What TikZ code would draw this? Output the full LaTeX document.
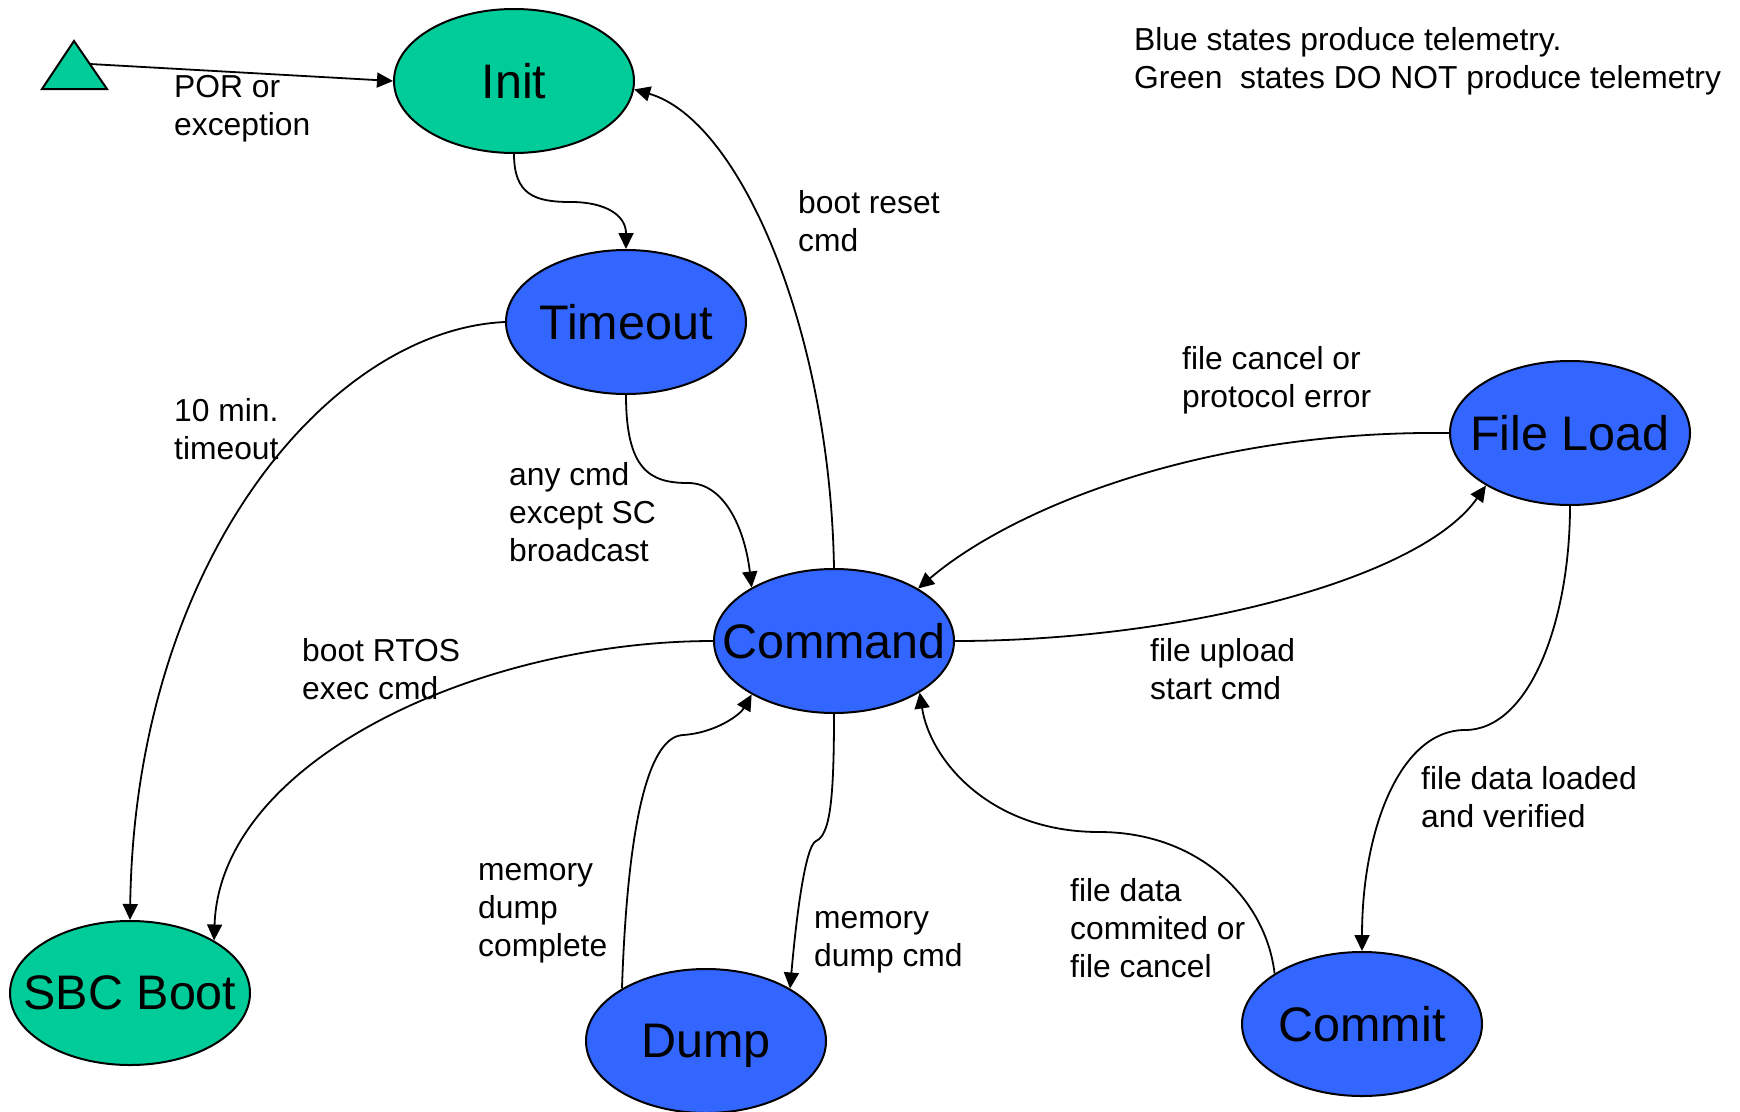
\documentclass[tikz,border=0pt]{standalone}
\usepackage{fontspec}
\setmainfont{Liberation Sans}
\usetikzlibrary{shapes.geometric,arrows.meta}
\definecolor{stgreen}{RGB}{0,204,153}
\definecolor{stblue}{RGB}{51,102,255}
\newcommand\sttext[1]{\makebox[0pt]{\raisebox{0pt}[\height][0pt]{#1}}}
\begin{document}
\begin{tikzpicture}[x=1pt,y=-1pt,
  state/.style={ellipse, draw=black, line width=2pt, minimum width=240pt, minimum height=144pt, inner sep=0pt, font=\fontsize{48.5}{58}\selectfont},
  gstate/.style={state, fill=stgreen},
  bstate/.style={state, fill=stblue},
  trans/.style={line width=1.8pt, -{Triangle[length=16pt,width=15pt]}},
  lbl/.style={anchor=west, align=left, inner sep=0pt, font=\fontsize{31.8}{38}\selectfont}]
\useasboundingbox (0,0) rectangle (1740,1111);
\fill[white] (0,0) rectangle (1740,1111);

% states
\node[gstate] (init) at (514,81) {\sttext{Init}};
\node[bstate] (tmo) at (626,322) {\sttext{Timeout}};
\node[bstate] (cmd) at (834,641) {\sttext{Command}};
\node[bstate] (fl) at (1570,433) {\sttext{File Load}};
\node[gstate] (sbc) at (130,993) {\sttext{SBC Boot}};
\node[bstate] (dump) at (706,1041) {\sttext{Dump}};
\node[bstate] (commit) at (1362,1024) {\sttext{Commit}};

% start triangle
\filldraw[fill=stgreen, draw=black, line width=2pt, line join=miter] (42,89) -- (107,89) -- (74,41) -- cycle;
\coordinate (porsrc) at (90,64);

% waypoints
\coordinate (w1) at (571,202);
\coordinate (w2) at (688,483);
\coordinate (w3) at (1465,730);
\coordinate (w4) at (816,841);
\coordinate (w5) at (683,735);
\coordinate (w6) at (1099,832);

% transitions
\draw[trans] (porsrc) -- (init.west);
\draw[trans] (init.south) .. controls (514,195) and (535,202) .. (w1) .. controls (605,202) and (626,215) .. (tmo.north);
\draw[trans] (cmd.north) .. controls (830,330) and (740,120) .. (init.-4);
\draw[trans] (tmo.south) .. controls (626,470) and (650,483) .. (w2) .. controls (725,483) and (745,530) .. (cmd.147);
\draw[trans] (tmo.west) .. controls (330,330) and (135,560) .. (sbc.north);
\draw[trans] (cmd.west) .. controls (480,641) and (220,760) .. (sbc.32);
\draw[trans] (cmd.east) .. controls (1180,641) and (1420,580) .. (fl.212);
\draw[trans] (fl.west) .. controls (1200,430) and (1010,510) .. (cmd.32);
\draw[trans] (fl.south) .. controls (1570,620) and (1530,730) .. (w3) .. controls (1400,730) and (1362,830) .. (commit.north);
\draw[trans] (cmd.south) .. controls (834,800) and (830,835) .. (w4) .. controls (805,846) and (796,920) .. (dump.32);
\draw[trans] (dump.148) .. controls (627,840) and (645,737) .. (w5) .. controls (715,733) and (740,715) .. (cmd.213);
\draw[trans] (commit.150) .. controls (1266,900) and (1200,832) .. (w6) .. controls (990,832) and (930,760) .. (cmd.-31);

% labels
\node[lbl] (lpor) at (174,109) {POR or\\exception};
\node[lbl] (lreset) at (798,221.5) {boot reset\\cmd};
\node[lbl] (ltimeout) at (174,429) {10 min.\\timeout};
\node[lbl] (lany) at (509,512) {any cmd\\except SC\\broadcast};
\node[lbl] (lcancel) at (1182,380.5) {file cancel or\\protocol error};
\node[lbl] (lrtos) at (302,669) {boot RTOS\\exec cmd};
\node[lbl] (lupload) at (1150,669) {file upload\\start cmd};
\node[lbl] (lloaded) at (1421,797.5) {file data loaded\\and verified};
\node[lbl] (ldumpdone) at (478,913) {memory\\dump\\complete};
\node[lbl] (ldumpcmd) at (814,942) {memory\\dump cmd};
\node[lbl] (lcommit) at (1070,928) {file data\\commited or\\file cancel};
\node[lbl] (legend) at (1134,61.5) {Blue states produce telemetry.\\Green\ \ states DO NOT produce telemetry};
\end{tikzpicture}
\end{document}
